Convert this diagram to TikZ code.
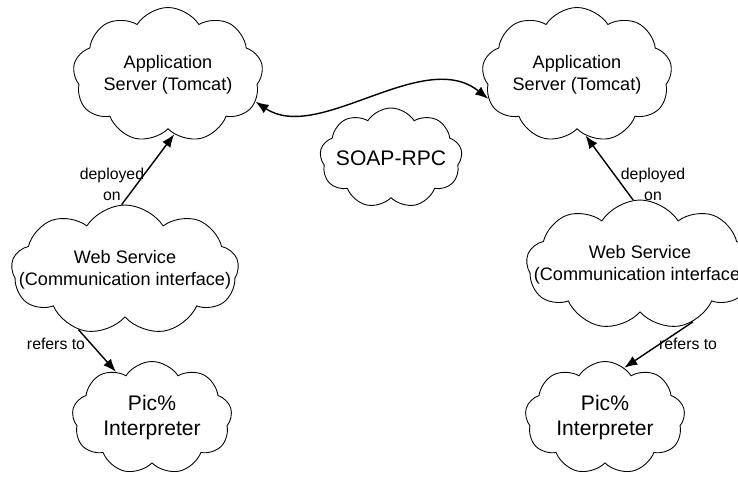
\documentclass[tikz,border=0pt]{standalone}
\usepackage{fontspec}
\setmainfont{Liberation Sans}
\usepackage{tikz}
\usetikzlibrary{shapes.symbols, arrows.meta}

\tikzset{
	cloudbox/.style = {cloud, draw = black, line width = 0.5pt, cloud puffs = 9, cloud puff arc = 115, cloud ignores aspect, inner sep = 0pt, align = center, font = \fontsize{10.3}{12.5}\selectfont},
	bigtext/.style = {font = \fontsize{12}{14.2}\selectfont},
	edgelabel/.style = {align = center, font = \fontsize{9}{12}\selectfont},
	link/.style = {line width = 0.8pt, -{Latex[length = 2.6mm, width = 2mm]}},
	twolink/.style = {line width = 0.8pt, {Latex[length = 2.6mm, width = 2mm]}-{Latex[length = 2.6mm, width = 2mm]}}
}

\begin{document}
\begin{tikzpicture}
		\useasboundingbox (0,0) rectangle (14.76,9.52);
		
		% servers
		\node[cloudbox, minimum width = 3.8cm, minimum height = 2.7cm] (appL) at (3.36, 8.02) {Application\\Server (Tomcat)};
		\node[cloudbox, minimum width = 3.8cm, minimum height = 2.7cm] (appR) at (11.54, 8.02) {Application\\Server (Tomcat)};
		\node[cloudbox, bigtext, inner xsep = -0.06cm, minimum height = 2.0cm] (soap) at (7.82, 6.36) {SOAP-RPC};
		
		% web services
		\node[cloudbox, inner xsep = -0.49cm, minimum height = 2.6cm] (webL) at (2.5, 4.12) {Web Service\\(Communication interface)};
		\node[cloudbox, inner xsep = -0.49cm, minimum height = 2.6cm] (webR) at (12.8, 4.22) {Web Service\\(Communication interface)};
		
		% interpreters
		\node[cloudbox, bigtext, minimum width = 3.2cm, minimum height = 2.26cm] (picL) at (3.04, 1.16) {Pic\%\\Interpreter};
		\node[cloudbox, bigtext, minimum width = 3.2cm, minimum height = 2.26cm] (picR) at (12.1, 1.16) {Pic\%\\Interpreter};
		
		\draw[link] (webL.93) -- (appL.-84);
		\draw[link] (webR.96) -- (appR.-82);
		\draw[link] (webL.232) -- (picL.128);
		\draw[link] (webR.-47) -- (picR.69);
		\draw[twolink] (appL.-17) .. controls +(1.26,-0.84) and +(-1.3,1.04) .. (appR.195);
		
		\node[edgelabel] (deployL) at (2.24, 5.84) {deployed\\on};
		\node[edgelabel] (deployR) at (13.06, 5.84) {deployed\\on};
		\node[edgelabel] (refersL) at (1.12, 2.64) {refers to};
		\node[edgelabel] (refersR) at (13.76, 2.64) {refers to};
\end{tikzpicture}
\end{document}
